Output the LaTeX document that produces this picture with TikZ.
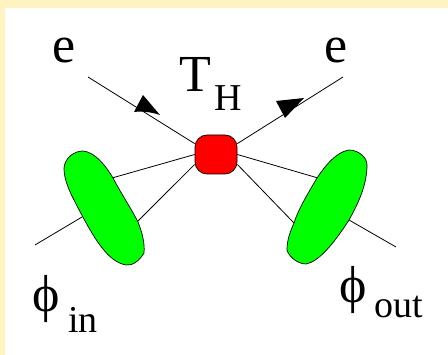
\documentclass[tikz,border=0pt]{standalone}
\usepackage{fontspec}
\setmainfont{Liberation Serif}
\definecolor{bgcream}{RGB}{255,243,192}
\definecolor{blobgreen}{RGB}{0,255,0}
\begin{document}
\begin{tikzpicture}[x=1pt,y=-1pt,
  wire/.style={draw=black,line width=0.8pt},
  blob/.style={draw=black,line width=0.7pt,fill=blobgreen},
  tip/.style={fill=black},
  big/.style={inner sep=0pt,anchor=base,font=\fontsize{52}{52}\selectfont},
  small/.style={inner sep=0pt,anchor=base west,font=\fontsize{38}{38}\selectfont}]
\useasboundingbox (0,0) rectangle (448,355);
\fill[bgcream] (0,0) rectangle (448,355);
\fill[white] (5,8) rectangle (448,355);
% named ends
\coordinate (ein) at (88,77);
\coordinate (eout) at (343,77);
\coordinate (stubL) at (35,245);
\coordinate (stubLb) at (82,217);
\coordinate (stubR) at (396,247);
\coordinate (stubRb) at (349,220);
\coordinate (lu) at (112,178);
\coordinate (ld) at (138,221);
\coordinate (ru) at (318,178);
\coordinate (rd) at (294,223);
% red vertex
\node[draw=black,line width=0.7pt,fill=red,rounded corners=12pt,minimum width=42pt,minimum height=39pt,inner sep=0pt] (core) at (216,154.5) {};
% lines
\draw[wire] (ein) -- (core.153);
\draw[wire] (eout) -- (core.27);
\draw[wire] (lu) -- (core.west);
\draw[wire] (ld) -- (core.205);
\draw[wire] (ru) -- (core.east);
\draw[wire] (rd) -- (core.-25);
\draw[wire] (stubL) -- (stubLb);
\draw[wire] (stubR) -- (stubRb);
% arrow heads
\fill[tip] (143,95) -- (134,112) .. controls (142,111) and (151,112) .. (160,115) -- cycle;
\fill[tip] (276,101) .. controls (285,100) and (295,99) .. (304,98) -- (285,118) -- cycle;
% blobs
\draw[blob] (64,168) .. controls (65,157) and (75,151) .. (83,151)
  .. controls (95,152) and (106,166) .. (113,178)
  .. controls (122,195) and (132,210) .. (138,222)
  .. controls (142,232) and (145,243) .. (144,253)
  .. controls (140,260) and (133,266) .. (126,265)
  .. controls (113,263) and (103,250) .. (95,238)
  .. controls (85,222) and (76,204) .. (71,194)
  .. controls (67,185) and (64,177) .. (64,168) -- cycle;
\draw[blob] (367,165) .. controls (367,157) and (358,150) .. (349,150)
  .. controls (336,152) and (325,166) .. (317,178)
  .. controls (307,195) and (298,210) .. (294,223)
  .. controls (290,232) and (287,240) .. (287,250)
  .. controls (289,257) and (298,264) .. (306,264)
  .. controls (318,262) and (333,245) .. (349,220)
  .. controls (358,204) and (367,185) .. (367,165) -- cycle;
% labels
\node[big] (e1) at (64.5,63) {e};
\node[big] (e2) at (336,63) {e};
\node[big] (T) at (195.5,92) {T};
\node[small] (H) at (214,111) {H};
\node[big] (phi1) at (46,312) {ϕ};
\node[small] (in) at (68,333) {in};
\node[big] (phi2) at (353,303) {ϕ};
\node[small] (out) at (374,318) {out};
\end{tikzpicture}
\end{document}
